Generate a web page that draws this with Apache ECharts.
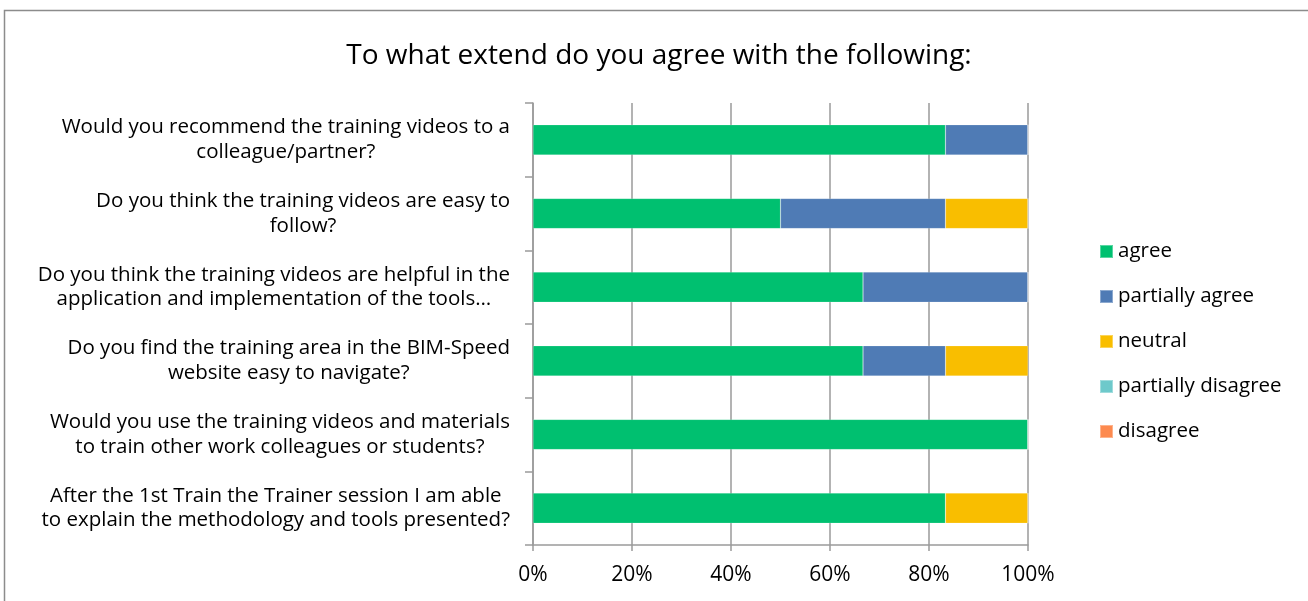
<!DOCTYPE html>
<html><head><meta charset="utf-8">
<script src="https://cdn.jsdelivr.net/npm/echarts@6/dist/echarts.min.js"></script>
<style>html,body{margin:0;padding:0;background:#fff}#c{width:1308px;height:601px}</style>
</head><body><div id="c"></div>
<script>
const categories = [
  "After the 1st Train the Trainer session I am able\nto explain the methodology and tools presented?",
  "Would you use the training videos and materials\nto train other work colleagues or students?",
  "Do you find the training area in the BIM-Speed\nwebsite easy to navigate?",
  "Do you think the training videos are helpful in the\napplication and implementation of the tools…",
  "Do you think the training videos are easy to\nfollow?",
  "Would you recommend the training videos to a\ncolleague/partner?"
];
const seriesNames = ["agree", "partially agree", "neutral", "partially disagree", "disagree"];
const agree = [83.33, 100, 66.67, 66.67, 50, 83.33];
const partiallyAgree = [0, 0, 16.67, 33.33, 33.33, 16.67];
const neutral = [16.67, 0, 16.67, 0, 16.67, 0];
const partiallyDisagree = [0, 0, 0, 0, 0, 0];
const disagree = [0, 0, 0, 0, 0, 0];
const xTicks = [0, 20, 40, 60, 80, 100];
const colors = ["#00C070", "#4F7BB5", "#F9BE00", "#6EC9CB", "#FD8A4F"];

const font = "'Open Sans', 'Noto Sans', sans-serif";
const chart = echarts.init(document.getElementById('c'));
const dataSets = [agree, partiallyAgree, neutral, partiallyDisagree, disagree];
chart.setOption({
  animation: false,
  title: {
    text: "To what extend do you agree with the following:",
    left: 654, top: 37, textAlign: 'center',
    textStyle: {fontFamily: font, fontSize: 28, fontWeight: 'normal', color: '#000'}
  },
  graphic: [{
    type: 'rect', shape: {x: 4.5, y: 10.5, width: 1320, height: 620},
    style: {fill: 'none', stroke: '#8c8c8c', lineWidth: 1.5}, silent: true
  }],
  legend: {
    orient: 'vertical', left: 1094, top: 236, itemGap: 24,
    itemWidth: 13, itemHeight: 13, icon: 'rect',
    textStyle: {fontFamily: font, fontSize: 20.5, color: '#000', lineHeight: 21},
    data: seriesNames
  },
  grid: {left: 533, right: 280, top: 103, bottom: 56},
  xAxis: {
    type: 'value', min: 0, max: 100, interval: 20,
    axisLabel: {formatter: v => v + '%', fontFamily: font, fontSize: 21, color: '#000', margin: 20},
    axisLine: {show: true, lineStyle: {color: '#9a9a9a', width: 1.5}},
    axisTick: {show: true, length: 6, lineStyle: {color: '#9a9a9a', width: 1.5}},
    splitLine: {show: true, lineStyle: {color: '#9a9a9a', width: 1.5}}
  },
  yAxis: {
    type: 'category', data: categories,
    axisLabel: {
      margin: 23, align: 'right',
      formatter: v => v.split('\n').map(s => '{c|' + s + '}').join('\n'),
      rich: {c: {fontFamily: font, fontSize: 20.5, color: '#000', lineHeight: 24.5, align: 'center'}}
    },
    axisLine: {show: true, lineStyle: {color: '#9a9a9a', width: 1.5}},
    axisTick: {show: true, length: 8, lineStyle: {color: '#9a9a9a', width: 1.5}}
  },
  series: seriesNames.map((n, i) => ({
    name: n, type: 'bar', stack: 'total', data: dataSets[i],
    barCategoryGap: '59%',
    itemStyle: {color: colors[i], borderColor: 'rgba(255,255,255,0.35)', borderWidth: 0.5}
  }))
});
</script></body></html>
